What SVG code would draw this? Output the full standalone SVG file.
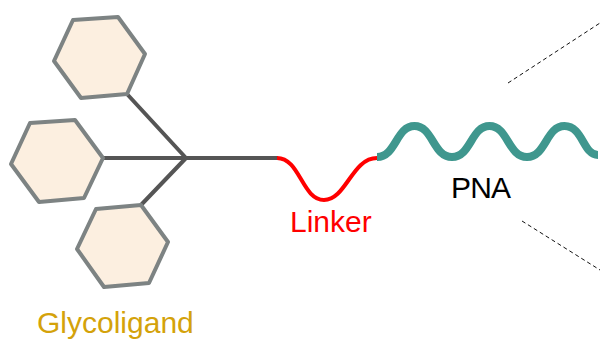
<svg xmlns="http://www.w3.org/2000/svg" width="600" height="341" viewBox="0 0 600 341">
<style>
.hex{fill:#fcefe0;stroke:#7d8383;stroke-width:4;stroke-linejoin:round}
.stem{stroke:#555;stroke-width:4;fill:none}
.lbl{font-family:"Liberation Sans",Arial,sans-serif;font-size:30px}
.dash{stroke:#111;stroke-width:1;stroke-dasharray:4,3;fill:none}
</style>
<rect width="600" height="341" fill="#fff"/>
<g id="connectors">
<path class="stem" d="M127,94 L186,158 M103,158 L186,158 M141,205 L186,158 M186,158 L278,158"/>
<path class="dash" d="M508,83 L600,23"/>
<path class="dash" d="M522,221 L600,270"/>
</g>
<g id="hex-top"><polygon class="hex" points="73,20 118,17 145,54 127,94 81,98 54,61"/></g>
<g id="hex-mid"><polygon class="hex" points="30,123 75,120 103,158 84,198 39,202 11,164"/></g>
<g id="hex-bot"><polygon class="hex" points="96,209 141,205 168,242 149,283 104,287 77,249"/></g>
<g id="glycoligand"><text class="lbl" x="37" y="333" fill="#d4a20a">Glycoligand</text></g>
<g id="linker">
<path d="M277,158 C300,158 302,200 324,200 C346,200 352,158 377,158" stroke="#ff0000" stroke-width="4" fill="none"/>
<text class="lbl" x="290" y="232" fill="#ff0000">Linker</text>
</g>
<g id="pna">
<path d="M377,157 C396,157 396,126 414.5,126 C433,126 433,157 452,157 C471,157 471,126 489.5,126 C508,126 508,157 527,157 C546,157 546,126 564.5,126 C583,126 583,155 598,155" stroke="#3f978e" stroke-width="8" fill="none"/>
<text class="lbl" x="451" y="198" fill="#000" textLength="60">PNA</text>
</g>
</svg>
